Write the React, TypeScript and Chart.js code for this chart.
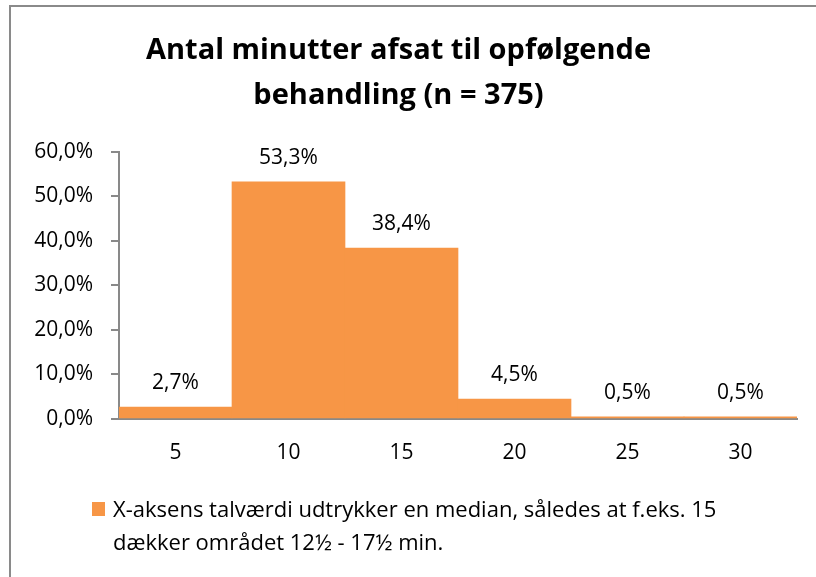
import React, { useEffect, useRef } from "react";
import { Chart, registerables } from "chart.js";

Chart.register(...registerables);

const titleLines = ["Antal minutter afsat til opfølgende", "behandling (n = 375)"];
const categories = ["5", "10", "15", "20", "25", "30"];
const values = [2.7, 53.3, 38.4, 4.5, 0.5, 0.5];
const yTicks = [0, 10, 20, 30, 40, 50, 60];
const legendLine1 = "X-aksens talværdi udtrykker en median, således at f.eks. 15";
const legendLine2 = "dækker området 12½ - 17½ min.";

const FONT = "'Open Sans', 'Liberation Sans', sans-serif";
const BAR_COLOR = "#F79646";
const AXIS_COLOR = "#898989";
const TEXT_SIZE = 21;

const fmt = (v: number) => v.toFixed(1).replace(".", ",") + "%";

const dataLabels = {
  id: "dataLabels",
  afterDatasetsDraw(chart: any) {
    const ctx = chart.ctx;
    const meta = chart.getDatasetMeta(0);
    ctx.save();
    ctx.font = `${TEXT_SIZE}px ${FONT}`;
    ctx.fillStyle = "#000";
    ctx.textAlign = "center";
    ctx.textBaseline = "alphabetic";
    meta.data.forEach((bar: any, i: number) => {
      ctx.fillText(fmt(values[i]), bar.x, bar.y - 18);
    });
    ctx.restore();
  },
};

export default function App() {
  const ref = useRef<HTMLCanvasElement | null>(null);
  useEffect(() => {
    if (!ref.current) return;
    const chart = new Chart(ref.current, {
      type: "bar",
      data: {
        labels: categories,
        datasets: [
          {
            label: legendLine1 + " " + legendLine2,
            data: values,
            backgroundColor: BAR_COLOR,
            borderWidth: 0,
            categoryPercentage: 1,
            barPercentage: 1,
          },
        ],
      },
      options: {
        responsive: false,
        animation: false,
        layout: { padding: { left: 0, right: 19, top: 0, bottom: 98 } },
        plugins: {
          legend: { display: false },
          tooltip: { enabled: false },
          title: {
            display: true,
            text: titleLines,
            color: "#000",
            font: { family: FONT, size: 29, weight: "bold", lineHeight: 1.55 },
            padding: { top: 28, bottom: 34 },
          },
        },
        scales: {
          x: {
            grid: { display: false, drawTicks: false },
            border: { display: true, color: AXIS_COLOR, width: 2 },
            ticks: { color: "#000", font: { family: FONT, size: TEXT_SIZE }, padding: 21 },
            afterFit: (s: any) => {
              s.height = 60;
            },
          },
          y: {
            min: 0,
            max: 60,
            afterBuildTicks: (s: any) => {
              s.ticks = yTicks.map((v) => ({ value: v }));
            },
            grid: {
              drawOnChartArea: false,
              drawTicks: true,
              tickLength: 8,
              color: AXIS_COLOR,
              lineWidth: 2,
            },
            border: { display: true, color: AXIS_COLOR, width: 2 },
            ticks: {
              color: "#000",
              font: { family: FONT, size: TEXT_SIZE },
              padding: 18,
              callback: (v: any) => fmt(Number(v)),
            },
            afterFit: (s: any) => {
              s.width = 119;
            },
          },
        },
      },
      plugins: [dataLabels],
    });
    return () => chart.destroy();
  }, []);

  return (
    <div style={{ position: "absolute", left: 0, top: 0, width: 816, height: 577, overflow: "hidden", background: "#fff" }}>
      <div
        style={{
          position: "absolute",
          left: 9,
          top: 5,
          width: 805,
          height: 570,
          borderLeft: "2px solid #8a8a8a",
          borderTop: "2px solid #8a8a8a",
        }}
      />
      <canvas ref={ref} width={816} height={577} style={{ position: "absolute", left: 0, top: 0 }} />
      <div
        style={{
          position: "absolute",
          left: 92,
          top: 492,
          display: "flex",
          alignItems: "flex-start",
          fontFamily: FONT,
          fontSize: 22,
          lineHeight: "33px",
          color: "#000",
        }}
      >
        <div style={{ width: 13, height: 14, background: BAR_COLOR, marginTop: 10, marginRight: 8, flex: "none" }} />
        <div style={{ whiteSpace: "nowrap" }}>
          {legendLine1}
          <br />
          {legendLine2}
        </div>
      </div>
    </div>
  );
}
